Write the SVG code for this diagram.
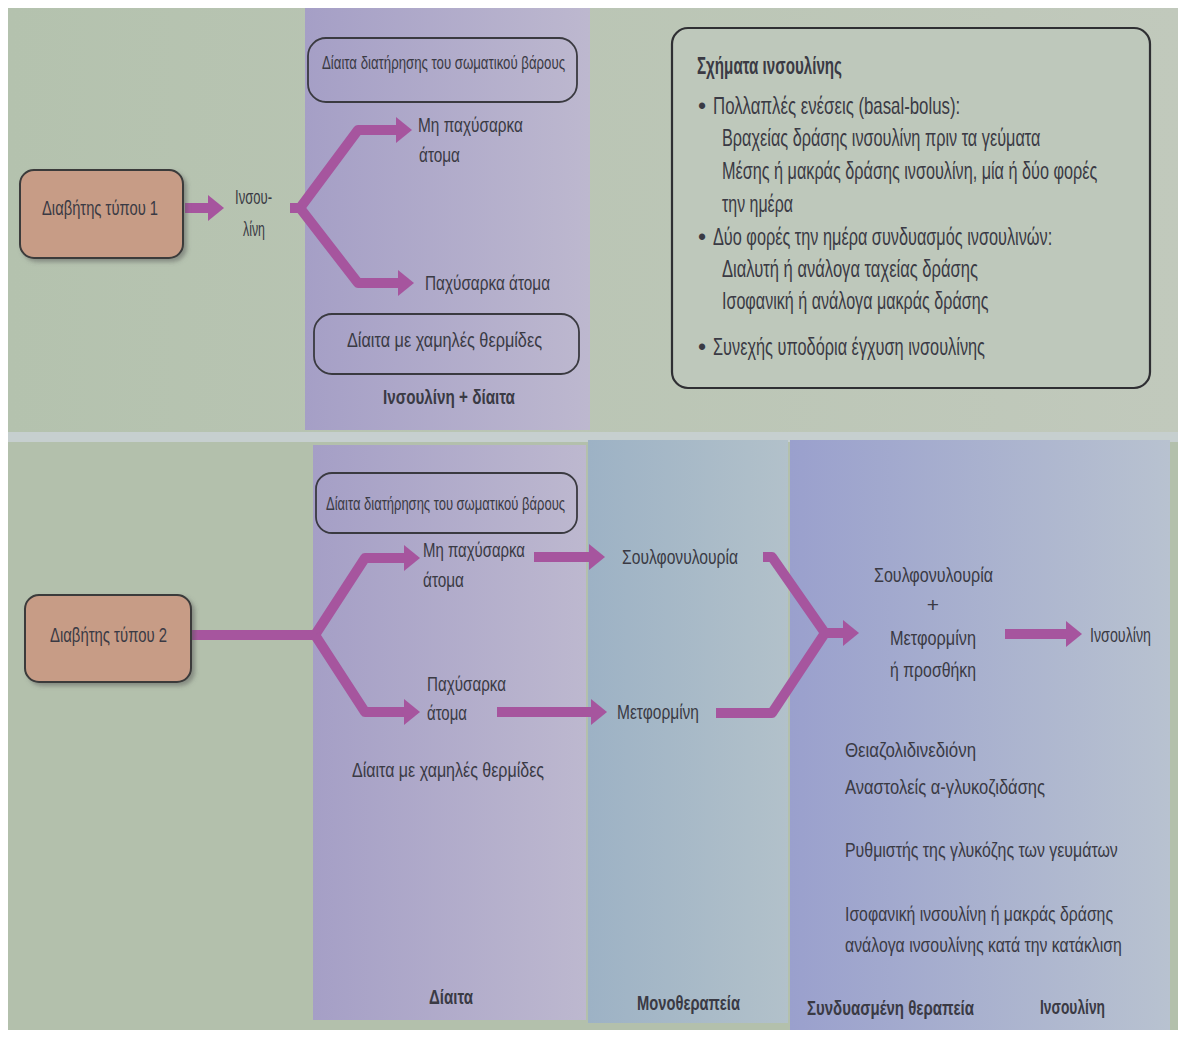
<svg xmlns="http://www.w3.org/2000/svg" width="1183" height="1037" viewBox="0 0 1183 1037">
<defs>
<linearGradient id="gPurple" x1="0" y1="0" x2="1" y2="0">
<stop offset="0" stop-color="#a59fc6"/><stop offset="1" stop-color="#bdb8cf"/>
</linearGradient>
<linearGradient id="gMono" x1="0" y1="0" x2="1" y2="0">
<stop offset="0" stop-color="#9db2c5"/><stop offset="1" stop-color="#b2c1ca"/>
</linearGradient>
<linearGradient id="gComb" x1="0" y1="0" x2="1" y2="0">
<stop offset="0" stop-color="#9aa0cd"/><stop offset="1" stop-color="#b8c2d0"/>
</linearGradient>
<linearGradient id="gTop" x1="0" y1="0" x2="1" y2="0">
<stop offset="0" stop-color="#b4c2ae"/><stop offset="1" stop-color="#c1c9bc"/>
</linearGradient>
<marker id="ah" markerUnits="userSpaceOnUse" markerWidth="20" markerHeight="30" viewBox="0 -15 20 30" refX="0" refY="0" orient="auto">
<path d="M0,-13 L16,0 L0,13 z" fill="#a6559e"/>
</marker>
<filter id="sh" x="-10%" y="-10%" width="130%" height="130%">
<feDropShadow dx="3" dy="3" stdDeviation="2" flood-color="#555" flood-opacity="0.5"/>
</filter>
</defs>
<style>
text{font-family:"Liberation Sans Narrow","Liberation Sans",Arial,sans-serif;fill:#3a3a44;}
.t{font-size:21px;}
.s{font-size:19px;}
.b{font-size:21px;font-weight:bold;}
.bx{font-size:23px;}
.pill{fill:none;stroke:#3a3a40;stroke-width:1.8;}
.dia{fill:#c79c86;stroke:#3a3a3a;stroke-width:2;}
.ar{fill:none;stroke:#a6559e;stroke-width:10;stroke-linejoin:round;}
</style>
<rect x="0" y="0" width="1183" height="1037" fill="#ffffff"/>
<rect x="8" y="8" width="1170" height="424" fill="url(#gTop)"/>
<rect x="8" y="432" width="1170" height="10" fill="#c6cfcf"/>
<rect x="8" y="442" width="1170" height="588" fill="#b3c0ac"/>
<rect x="305" y="8" width="285" height="422" fill="url(#gPurple)"/>
<rect x="313" y="445" width="273" height="575" fill="url(#gPurple)"/>
<rect x="588" y="440" width="200" height="583" fill="url(#gMono)"/>
<rect x="790" y="440" width="380" height="590" fill="url(#gComb)"/>

<g id="connectors">
<path class="ar" d="M185,208 H208" marker-end="url(#ah)"/>
<path class="ar" d="M290,208 H300 L358,130 H396" marker-end="url(#ah)"/>
<path class="ar" d="M300,208 L358,283 H398" marker-end="url(#ah)"/>
<path class="ar" d="M191,635 H315 L365,558 H404" marker-end="url(#ah)"/>
<path class="ar" d="M315,635 L365,712 H404" marker-end="url(#ah)"/>
<path class="ar" d="M534,557 H589" marker-end="url(#ah)"/>
<path class="ar" d="M497,712 H591" marker-end="url(#ah)"/>
<path class="ar" d="M763,557 H772 L825,633 L772,713 H716"/>
<path class="ar" d="M822,633 H843" marker-end="url(#ah)"/>
<path class="ar" d="M1005,634 H1066" marker-end="url(#ah)"/>
</g>

<g id="type1">
<rect class="dia" x="20" y="170" width="163" height="88" rx="14" filter="url(#sh)"/>
<text class="t" x="42" y="215" textLength="116" lengthAdjust="spacingAndGlyphs">Διαβήτης τύπου 1</text>
</g>
<g id="insulin1">
<text class="t" x="235" y="204" textLength="37" lengthAdjust="spacingAndGlyphs">Ινσου-</text>
<text class="t" x="243" y="236" textLength="22" lengthAdjust="spacingAndGlyphs">λίνη</text>
</g>
<g id="diet-maint1">
<rect class="pill" x="308" y="38" width="269" height="64" rx="18"/>
<text class="s" x="322" y="69" textLength="243" lengthAdjust="spacingAndGlyphs">Δίαιτα διατήρησης του σωματικού βάρους</text>
</g>
<g id="nonobese1">
<text class="t" x="418" y="132" textLength="105" lengthAdjust="spacingAndGlyphs">Μη παχύσαρκα</text>
<text class="t" x="419" y="162" textLength="41" lengthAdjust="spacingAndGlyphs">άτομα</text>
</g>
<g id="obese1">
<text class="t" x="425" y="290" textLength="125" lengthAdjust="spacingAndGlyphs">Παχύσαρκα άτομα</text>
</g>
<g id="diet-low1">
<rect class="pill" x="314" y="314" width="265" height="60" rx="18"/>
<text class="t" x="347" y="347" textLength="195" lengthAdjust="spacingAndGlyphs">Δίαιτα με χαμηλές θερμίδες</text>
</g>
<text class="b" x="383" y="404" textLength="132" lengthAdjust="spacingAndGlyphs">Ινσουλίνη + δίαιτα</text>

<g id="regimens">
<rect x="672" y="28" width="478" height="360" rx="16" fill="#bec8bb" stroke="#2f2f33" stroke-width="2.2"/>
<text class="bx" x="697" y="74" font-weight="bold" textLength="145" lengthAdjust="spacingAndGlyphs">Σχήματα ινσουλίνης</text>
<text class="bx" x="698" y="114">•</text>
<text class="bx" transform="translate(713,114) scale(0.8,1)" textLength="309" lengthAdjust="spacingAndGlyphs">Πολλαπλές ενέσεις (basal-bolus):</text>
<text class="bx" transform="translate(722,146) scale(0.8,1)" textLength="398" lengthAdjust="spacingAndGlyphs">Βραχείας δράσης ινσουλίνη πριν τα γεύματα</text>
<text class="bx" transform="translate(722,179) scale(0.8,1)" textLength="469" lengthAdjust="spacingAndGlyphs">Μέσης ή μακράς δράσης ινσουλίνη, μία ή δύο φορές</text>
<text class="bx" x="722" y="212" textLength="71" lengthAdjust="spacingAndGlyphs">την ημέρα</text>
<text class="bx" x="698" y="245">•</text>
<text class="bx" transform="translate(713,245) scale(0.8,1)" textLength="424" lengthAdjust="spacingAndGlyphs">Δύο φορές την ημέρα συνδυασμός ινσουλινών:</text>
<text class="bx" transform="translate(722,277) scale(0.8,1)" textLength="320" lengthAdjust="spacingAndGlyphs">Διαλυτή ή ανάλογα ταχείας δράσης</text>
<text class="bx" transform="translate(722,309) scale(0.8,1)" textLength="333" lengthAdjust="spacingAndGlyphs">Ισοφανική ή ανάλογα μακράς δράσης</text>
<text class="bx" x="698" y="355">•</text>
<text class="bx" transform="translate(713,355) scale(0.8,1)" textLength="340" lengthAdjust="spacingAndGlyphs">Συνεχής υποδόρια έγχυση ινσουλίνης</text>
</g>

<g id="type2">
<rect class="dia" x="25" y="595" width="166" height="87" rx="14" filter="url(#sh)"/>
<text class="t" x="50" y="642" textLength="117" lengthAdjust="spacingAndGlyphs">Διαβήτης τύπου 2</text>
</g>
<g id="diet-maint2">
<rect class="pill" x="316" y="473" width="261" height="60" rx="16"/>
<text class="s" x="326" y="510" textLength="239" lengthAdjust="spacingAndGlyphs">Δίαιτα διατήρησης του σωματικού βάρους</text>
</g>
<g id="nonobese2">
<text class="t" x="423" y="557" textLength="102" lengthAdjust="spacingAndGlyphs">Μη παχύσαρκα</text>
<text class="t" x="423" y="587" textLength="41" lengthAdjust="spacingAndGlyphs">άτομα</text>
</g>
<g id="obese2">
<text class="t" x="427" y="691" textLength="79" lengthAdjust="spacingAndGlyphs">Παχύσαρκα</text>
<text class="t" x="427" y="720" textLength="40" lengthAdjust="spacingAndGlyphs">άτομα</text>
</g>
<text class="t" x="352" y="777" textLength="192" lengthAdjust="spacingAndGlyphs">Δίαιτα με χαμηλές θερμίδες</text>
<text class="b" x="429" y="1004" textLength="44" lengthAdjust="spacingAndGlyphs">Δίαιτα</text>

<g id="sulfonylurea">
<text class="t" x="622" y="564" textLength="116" lengthAdjust="spacingAndGlyphs">Σουλφονυλουρία</text>
</g>
<g id="metformin">
<text class="t" x="617" y="719" textLength="82" lengthAdjust="spacingAndGlyphs">Μετφορμίνη</text>
</g>
<text class="b" x="637" y="1010" textLength="103" lengthAdjust="spacingAndGlyphs">Μονοθεραπεία</text>

<g id="combo">
<text class="t" x="874" y="582" textLength="119" lengthAdjust="spacingAndGlyphs">Σουλφονυλουρία</text>
<text class="t" x="933" y="612" text-anchor="middle">+</text>
<text class="t" x="890" y="645" textLength="86" lengthAdjust="spacingAndGlyphs">Μετφορμίνη</text>
<text class="t" x="890" y="677" textLength="86" lengthAdjust="spacingAndGlyphs">ή προσθήκη</text>
</g>
<g id="insulin2">
<text class="t" x="1090" y="642" textLength="61" lengthAdjust="spacingAndGlyphs">Ινσουλίνη</text>
</g>
<g id="addons">
<text class="t" x="845" y="757" textLength="131" lengthAdjust="spacingAndGlyphs">Θειαζολιδινεδιόνη</text>
<text class="t" transform="translate(845,794) scale(0.8,1)" textLength="250" lengthAdjust="spacingAndGlyphs">Αναστολείς α-γλυκοζιδάσης</text>
<text class="t" transform="translate(845,857) scale(0.8,1)" textLength="341" lengthAdjust="spacingAndGlyphs">Ρυθμιστής της γλυκόζης των γευμάτων</text>
<text class="t" transform="translate(845,921) scale(0.8,1)" textLength="335" lengthAdjust="spacingAndGlyphs">Ισοφανική ινσουλίνη ή μακράς δράσης</text>
<text class="t" transform="translate(845,952) scale(0.8,1)" textLength="346" lengthAdjust="spacingAndGlyphs">ανάλογα ινσουλίνης κατά την κατάκλιση</text>
</g>
<text class="b" x="807" y="1015" textLength="167" lengthAdjust="spacingAndGlyphs">Συνδυασμένη θεραπεία</text>
<text class="b" x="1040" y="1014" textLength="65" lengthAdjust="spacingAndGlyphs">Ινσουλίνη</text>
</svg>
